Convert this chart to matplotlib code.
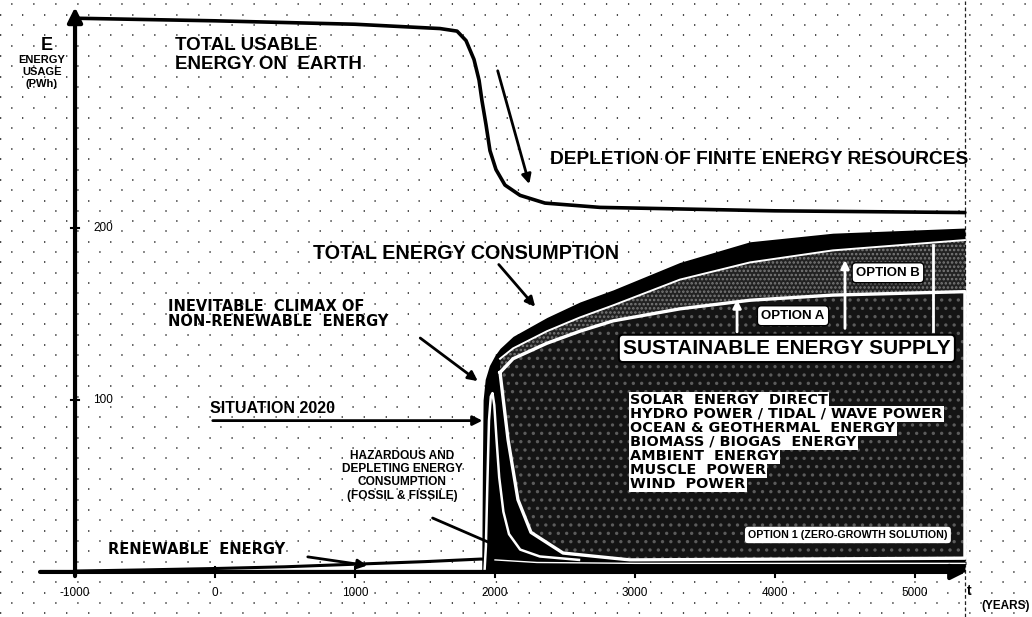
import numpy as np
import matplotlib
matplotlib.use('Agg')
from matplotlib import pyplot as plt

plt.rcParams['font.family'] = ['Liberation Sans', 'DejaVu Sans']
plt.rcParams['font.weight'] = 'bold'
plt.rcParams['hatch.linewidth'] = 1.2
WIDE = ['DejaVu Sans']

# --- data (years / PWh) ---
year_ticks = [-1000, 0, 1000, 2000, 3000, 4000, 5000]
year_labels = ['-1000', '0', '1000', '2000', '3000', '4000', '5000']
e_ticks = [100, 200]

usable_years = [-1000, 0, 1000, 1607, 1729, 1793, 1850, 1886, 1907, 1936, 1964, 2007,
                2071, 2179, 2357, 2750, 4000, 5357]
usable_vals = [322, 320.5, 318.5, 316, 314.5, 309, 298, 286, 274, 260, 245, 234,
               225, 219, 214.5, 212, 210, 209]

cons_years = [1905, 1910, 1915, 1930, 1960, 2000, 2036, 2129, 2371, 2607, 2843, 3321, 3821, 4414, 5357]
cons_vals = [0, 60, 100, 112, 120, 126, 130, 137, 148, 157, 164, 180, 192, 197, 200]

# shared grid for the inner layers of the consumption curve
layer_years = [2036, 2129, 2371, 2607, 2843, 3321, 3821, 4414, 5357]
band_vals = [124, 130, 140, 148, 155, 170, 180, 187, 193]      # lower edge of black band
supply_top = [116, 124, 133, 140, 146, 153, 158, 161, 163]     # sustainable supply level

# left / bottom edge of the sustainable supply block (right to left)
edge_years = [5357, 5357, 2964, 2486, 2257, 2164, 2093, 2036]
edge_vals = [163, 8, 7, 11, 23, 42, 77, 116]

spike_years = [1925, 1935, 1945, 1957, 1970, 1982, 1995, 2010, 2030, 2060, 2100, 2180, 2320, 2600]
spike_vals = [0, 15, 50, 88, 102, 104, 97, 78, 55, 35, 22, 13, 9, 7]

renew_years = [-1000, -500, 0, 500, 1000, 1500, 1900, 2000, 2300, 3000, 4000, 5000, 5357]
renew_vals = [0.5, 1.2, 2, 3, 4.5, 6, 7.5, 7, 5.5, 5, 5, 5, 5]

sources = ['SOLAR  ENERGY  DIRECT',
           'HYDRO POWER / TIDAL / WAVE POWER',
           'OCEAN & GEOTHERMAL  ENERGY',
           'BIOMASS / BIOGAS  ENERGY',
           'AMBIENT  ENERGY',
           'MUSCLE  POWER',
           'WIND  POWER']

fig = plt.figure(figsize=(10.32, 6.17), dpi=100)
ax = fig.add_axes([0, 0, 1, 1])
ax.set_xlim(-1536, 5836)
ax.set_ylim(-26.2, 332.6)
ax.axis('off')

# dotted paper background
rows = np.arange(-24, 333, 12)
ax.hlines(rows, -1536, 5836, colors='#3a3a3a', linewidth=1.3,
          linestyles=(0, (0.7, 11.5)), zorder=0)
ax.hlines(rows + 6, -1536, 5836, colors='#3a3a3a', linewidth=1.3,
          linestyles=(6, (0.7, 11.5)), zorder=0)
ax.vlines(5357, -26, 332, colors='#222', linewidth=0.9, linestyles=(0, (3, 2)), zorder=1)

# total usable energy
ax.plot(usable_years, usable_vals, color='black', lw=2.6, zorder=4,
        solid_capstyle='round', solid_joinstyle='round')

# total consumption (black envelope)
ax.fill_between(cons_years, cons_vals, 0, color='black', lw=0, zorder=2)
ax.fill_between(layer_years, band_vals, supply_top, facecolor='#222222',
                edgecolor='#7a7a7a', hatch='....', lw=0, zorder=3)
ax.plot(layer_years, band_vals, color='white', lw=1.4, zorder=4)

# sustainable supply block
blk_x = layer_years + edge_years
blk_y = supply_top + edge_vals
ax.fill(blk_x, blk_y, facecolor='#141414', edgecolor='#5c5c5c', hatch='..', lw=0, zorder=3)
ax.plot(blk_x, blk_y, color='white', lw=2.4, zorder=4, solid_joinstyle='round')

# non-renewable spike
ax.plot(spike_years, spike_vals, color='white', lw=1.8, zorder=5, solid_joinstyle='round')

# renewable energy
rx = np.array(renew_years)
ry = np.array(renew_vals)
ax.plot(rx, ry, color='black', lw=2.2, zorder=4)
ax.plot(rx[rx >= 1950], ry[rx >= 1950], color='white', lw=1.0, zorder=5)

# axes with arrows
ax.annotate('', xy=(5385, 0), xytext=(-1270, 0),
            arrowprops=dict(arrowstyle='-|>', lw=3, color='black', mutation_scale=22), zorder=6)
ax.annotate('', xy=(-1000, 330), xytext=(-1000, -4),
            arrowprops=dict(arrowstyle='-|>', lw=3, color='black', mutation_scale=22), zorder=6)
for t, lab in zip(year_ticks, year_labels):
    ax.plot([t, t], [-3, 3], color='black', lw=1.5, zorder=6)
    ax.text(t, -12, lab, ha='center', va='center', fontsize=8.5, weight='normal')
for v in e_ticks:
    ax.plot([-1030, -970], [v, v], color='black', lw=1.5, zorder=6)
    ax.text(-800, v, str(v), ha='center', va='center', fontsize=8.5, weight='normal')

ax.text(5390, -11, 't', ha='center', va='center', fontsize=10)
ax.text(5650, -20, '(YEARS)', ha='center', va='center', fontsize=8.5)
ax.text(-1200, 306, 'E', ha='center', va='center', fontsize=13)
ax.text(-1236, 291, 'ENERGY\nUSAGE\n(PWh)', ha='center', va='center', fontsize=8,
        linespacing=1.25)

# labels and arrows
arrow = dict(arrowstyle='-|>', lw=2, color='black', mutation_scale=14)
ax.text(-286, 311, 'TOTAL USABLE\nENERGY ON  EARTH', ha='left', va='top', fontsize=13.5,
        linespacing=1.15)
ax.text(2393, 240, 'DEPLETION OF FINITE ENERGY RESOURCES', ha='left', va='center', fontsize=13.8)
ax.annotate('', xy=(2250, 224), xytext=(2014, 293), arrowprops=arrow, zorder=6)

ax.text(700, 185, 'TOTAL ENERGY CONSUMPTION', ha='left', va='center', fontsize=14.2)
ax.annotate('', xy=(2300, 153), xytext=(2014, 180), arrowprops=arrow, zorder=6)

ax.text(-336, 150, 'INEVITABLE  CLIMAX OF\nNON-RENEWABLE  ENERGY', ha='left', va='center',
        fontsize=10.5, linespacing=1.0, family=WIDE)
ax.annotate('', xy=(1893, 110), xytext=(1450, 137), arrowprops=arrow, zorder=6)

ax.text(-36, 95, 'SITUATION 2020', ha='left', va='center', fontsize=11.5)
ax.annotate('', xy=(1930, 88), xytext=(-36, 88), arrowprops=arrow, zorder=6)

ax.text(1336, 56, 'HAZARDOUS AND\nDEPLETING ENERGY\nCONSUMPTION\n(FOSSIL & FISSILE)',
        ha='center', va='center', fontsize=8.6, linespacing=1.15)
ax.annotate('', xy=(1990, 16), xytext=(1536, 32),
            arrowprops=dict(arrowstyle='-', lw=2, color='black'), zorder=6)

ax.text(-764, 13, 'RENEWABLE  ENERGY', ha='left', va='center', fontsize=10.5, family=WIDE)
ax.annotate('', xy=(1107, 3.5), xytext=(643, 9), arrowprops=arrow, zorder=6)

ax.text(4085, 130, 'SUSTAINABLE ENERGY SUPPLY', ha='center', va='center', fontsize=15, zorder=8,
        bbox=dict(boxstyle='round,pad=0.2', fc='white', ec='black', lw=1.5))
for i, s in enumerate(sources):
    ax.text(2964, 100 - i * 8.14, s, ha='left', va='center', fontsize=10.4, zorder=8,
            family=WIDE, bbox=dict(boxstyle='square,pad=0.1', fc='white', ec='none'))

# options
ax.text(4129, 149, 'OPTION A', ha='center', va='center', fontsize=9.5, zorder=8,
        bbox=dict(boxstyle='round,pad=0.3', fc='white', ec='black', lw=1))
ax.annotate('', xy=(3729, 160), xytext=(3729, 138),
            arrowprops=dict(arrowstyle='-|>', lw=2, color='white', mutation_scale=12), zorder=7)
ax.text(4807, 174, 'OPTION B', ha='center', va='center', fontsize=9.5, zorder=8,
        bbox=dict(boxstyle='round,pad=0.3', fc='white', ec='black', lw=1))
ax.annotate('', xy=(4500, 183), xytext=(4500, 140),
            arrowprops=dict(arrowstyle='-|>', lw=2, color='white', mutation_scale=12), zorder=7)
ax.plot([5129, 5129], [140, 190], color='white', lw=2, zorder=7)
ax.text(4521, 21.5, 'OPTION 1 (ZERO-GROWTH SOLUTION)', ha='center', va='center', fontsize=7.7,
        zorder=8, bbox=dict(boxstyle='round,pad=0.3', fc='white', ec='none'))

fig.savefig('out.png', dpi=100)
